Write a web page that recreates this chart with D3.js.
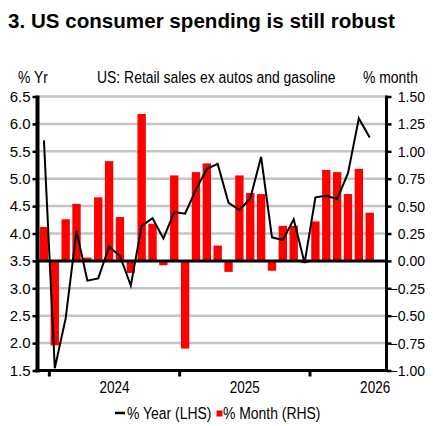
<!DOCTYPE html>
<html><head><meta charset="utf-8">
<script src="https://cdn.jsdelivr.net/npm/d3@7/dist/d3.min.js"></script>
<style>body{margin:0;background:#fff} svg{display:block}</style>
</head><body>
<svg id="c" width="433" height="426"></svg>
<script>
// ---- data ----
const months = ["Dec-23",
  "Jan-24","Feb-24","Mar-24","Apr-24","May-24","Jun-24","Jul-24","Aug-24","Sep-24","Oct-24","Nov-24","Dec-24",
  "Jan-25","Feb-25","Mar-25","Apr-25","May-25","Jun-25","Jul-25","Aug-25","Sep-25","Oct-25","Nov-25","Dec-25",
  "Jan-26","Feb-26","Mar-26","Apr-26","May-26","Jun-26","Jul-26"];
const yoy = [5.70,1.54,2.45,4.05,3.14,3.18,3.76,3.59,3.05,4.14,4.28,3.91,4.39,4.36,4.80,5.18,5.27,4.56,4.43,4.64,5.40,3.93,3.88,4.26,3.46,4.66,4.69,4.63,5.10,6.10,5.75];
const mom = [0.31,-0.77,0.38,0.52,0.03,0.58,0.91,0.40,-0.11,1.34,0.34,-0.04,0.78,-0.80,0.81,0.89,0.14,-0.10,0.78,0.62,0.61,-0.09,0.32,0.32,-0.02,0.36,0.83,0.81,0.61,0.84,0.44];
const lhsTicks = [6.5,6.0,5.5,5.0,4.5,4.0,3.5,3.0,2.5,2.0,1.5];
const rhsTicks = [1.50,1.25,1.00,0.75,0.50,0.25,0.00,-0.25,-0.50,-0.75,-1.00];
const yearLabels = ["2024","2025","2026"];
const yearStarts = ["Jan-24","Jan-25","Jan-26"];

// ---- layout ----
const F = "'Liberation Sans',Arial,sans-serif";
const svg = d3.select("#c");
const x0 = 38.5, x1 = 386, yT = 96.5, yB = 370.5;

const x = d3.scaleBand().domain(months).range([x0, x1]).paddingInner(0.23).paddingOuter(0.115);
const step = x.step();
const xs = d3.scaleBand().domain(months).range([x0, x1]); // slot scale
const yL = d3.scaleLinear().domain([1.5, 6.5]).range([yB, yT]);
const yR = d3.scaleLinear().domain([-1, 1.5]).range([yB, yT]);

// narrow text helper (Arial Narrow look)
function ntext(g, px, py, str, size, anchor) {
  return g.append("text").attr("transform", `translate(${px},${py}) scale(0.82,1)`)
    .attr("font-family", F).attr("font-size", size).attr("fill", "#000")
    .attr("text-anchor", anchor || "start").text(str);
}

// title
svg.append("text").attr("x", 8).attr("y", 28)
  .attr("font-family", F).attr("font-weight", "bold")
  .attr("font-size", 20.6).attr("fill", "#000").text("3. US consumer spending is still robust");

// header row
ntext(svg, 18, 83, "% Yr", 17);
ntext(svg, 97, 83, "US: Retail sales ex autos and gasoline", 17);
ntext(svg, 363, 83, "% month", 17);

// gridlines
svg.append("g").selectAll("line").data(lhsTicks.filter(d => d !== 1.5 && d !== 3.5)).join("line")
  .attr("x1", x0).attr("x2", x1).attr("y1", d => yL(d)).attr("y2", d => yL(d))
  .attr("stroke", "#c4c4c4").attr("stroke-width", 2.5);

// bars
svg.append("g").selectAll("rect").data(mom).join("rect")
  .attr("x", (d, i) => x(months[i]))
  .attr("width", x.bandwidth())
  .attr("y", d => yR(Math.max(0, d)))
  .attr("height", d => Math.abs(yR(d) - yR(0)))
  .attr("fill", "#ff0000");

// zero line
svg.append("line").attr("x1", x0).attr("x2", x1).attr("y1", yR(0)).attr("y2", yR(0))
  .attr("stroke", "#000").attr("stroke-width", 3);

// yoy line
const line = d3.line().x((d, i) => xs(months[i]) + xs.bandwidth() / 2).y(d => yL(d));
svg.append("path").datum(yoy).attr("d", line).attr("fill", "none")
  .attr("stroke", "#000").attr("stroke-width", 2).attr("stroke-linejoin", "miter");

// left axis
const axL = d3.axisLeft(yL).tickValues(lhsTicks).tickSize(5).tickPadding(2).tickFormat(d3.format(".1f"));
const gL = svg.append("g").attr("transform", `translate(${x0 - 1},0)`).call(axL);
gL.select(".domain").remove();
gL.selectAll(".tick line").attr("stroke", "#000").attr("stroke-width", 2.5);
gL.selectAll(".tick text").attr("font-family", F).attr("font-size", 15).attr("fill", "#000");
svg.append("line").attr("x1", x0 - 1).attr("x2", x0 - 1).attr("y1", yT - 1).attr("y2", yB + 2)
  .attr("stroke", "#000").attr("stroke-width", 4);

// right axis
const axR = d3.axisRight(yR).tickValues(rhsTicks).tickSize(5).tickFormat(d3.format(".2f"));
const gR = svg.append("g").attr("transform", `translate(${x1 + 0.5},0)`).call(axR);
gR.select(".domain").remove();
gR.selectAll(".tick line").attr("stroke", "#000").attr("stroke-width", 2.5);
gR.selectAll(".tick text").attr("font-family", F).attr("font-size", 14).attr("fill", "#000")
  .attr("text-anchor", "end").attr("x", 425 - (x1 + 0.5)).attr("dy", "0.36em");
svg.append("line").attr("x1", x1 + 0.5).attr("x2", x1 + 0.5).attr("y1", yT - 1).attr("y2", yB + 1.5)
  .attr("stroke", "#000").attr("stroke-width", 3);

// bottom axis
svg.append("line").attr("x1", x0 - 3).attr("x2", x1 + 2).attr("y1", yB).attr("y2", yB)
  .attr("stroke", "#000").attr("stroke-width", 3);
svg.append("g").selectAll("line").data(yearStarts).join("line")
  .attr("x1", d => xs(d)).attr("x2", d => xs(d)).attr("y1", yB).attr("y2", yB + 6)
  .attr("stroke", "#000").attr("stroke-width", 3);
const gY = svg.append("g");
yearLabels.forEach((d, i) => ntext(gY, xs(yearStarts[i]) + 6 * step, 393, d, 16.5, "middle"));

// legend
const lg = svg.append("g");
lg.append("line").attr("x1", 115).attr("x2", 125).attr("y1", 413).attr("y2", 413)
  .attr("stroke", "#000").attr("stroke-width", 2.5);
ntext(lg, 127, 419, "% Year (LHS)", 17);
lg.append("rect").attr("x", 216.5).attr("y", 410.5).attr("width", 6).attr("height", 6).attr("fill", "#ff0000");
ntext(lg, 223, 419, "% Month (RHS)", 17);
</script>
</body></html>
